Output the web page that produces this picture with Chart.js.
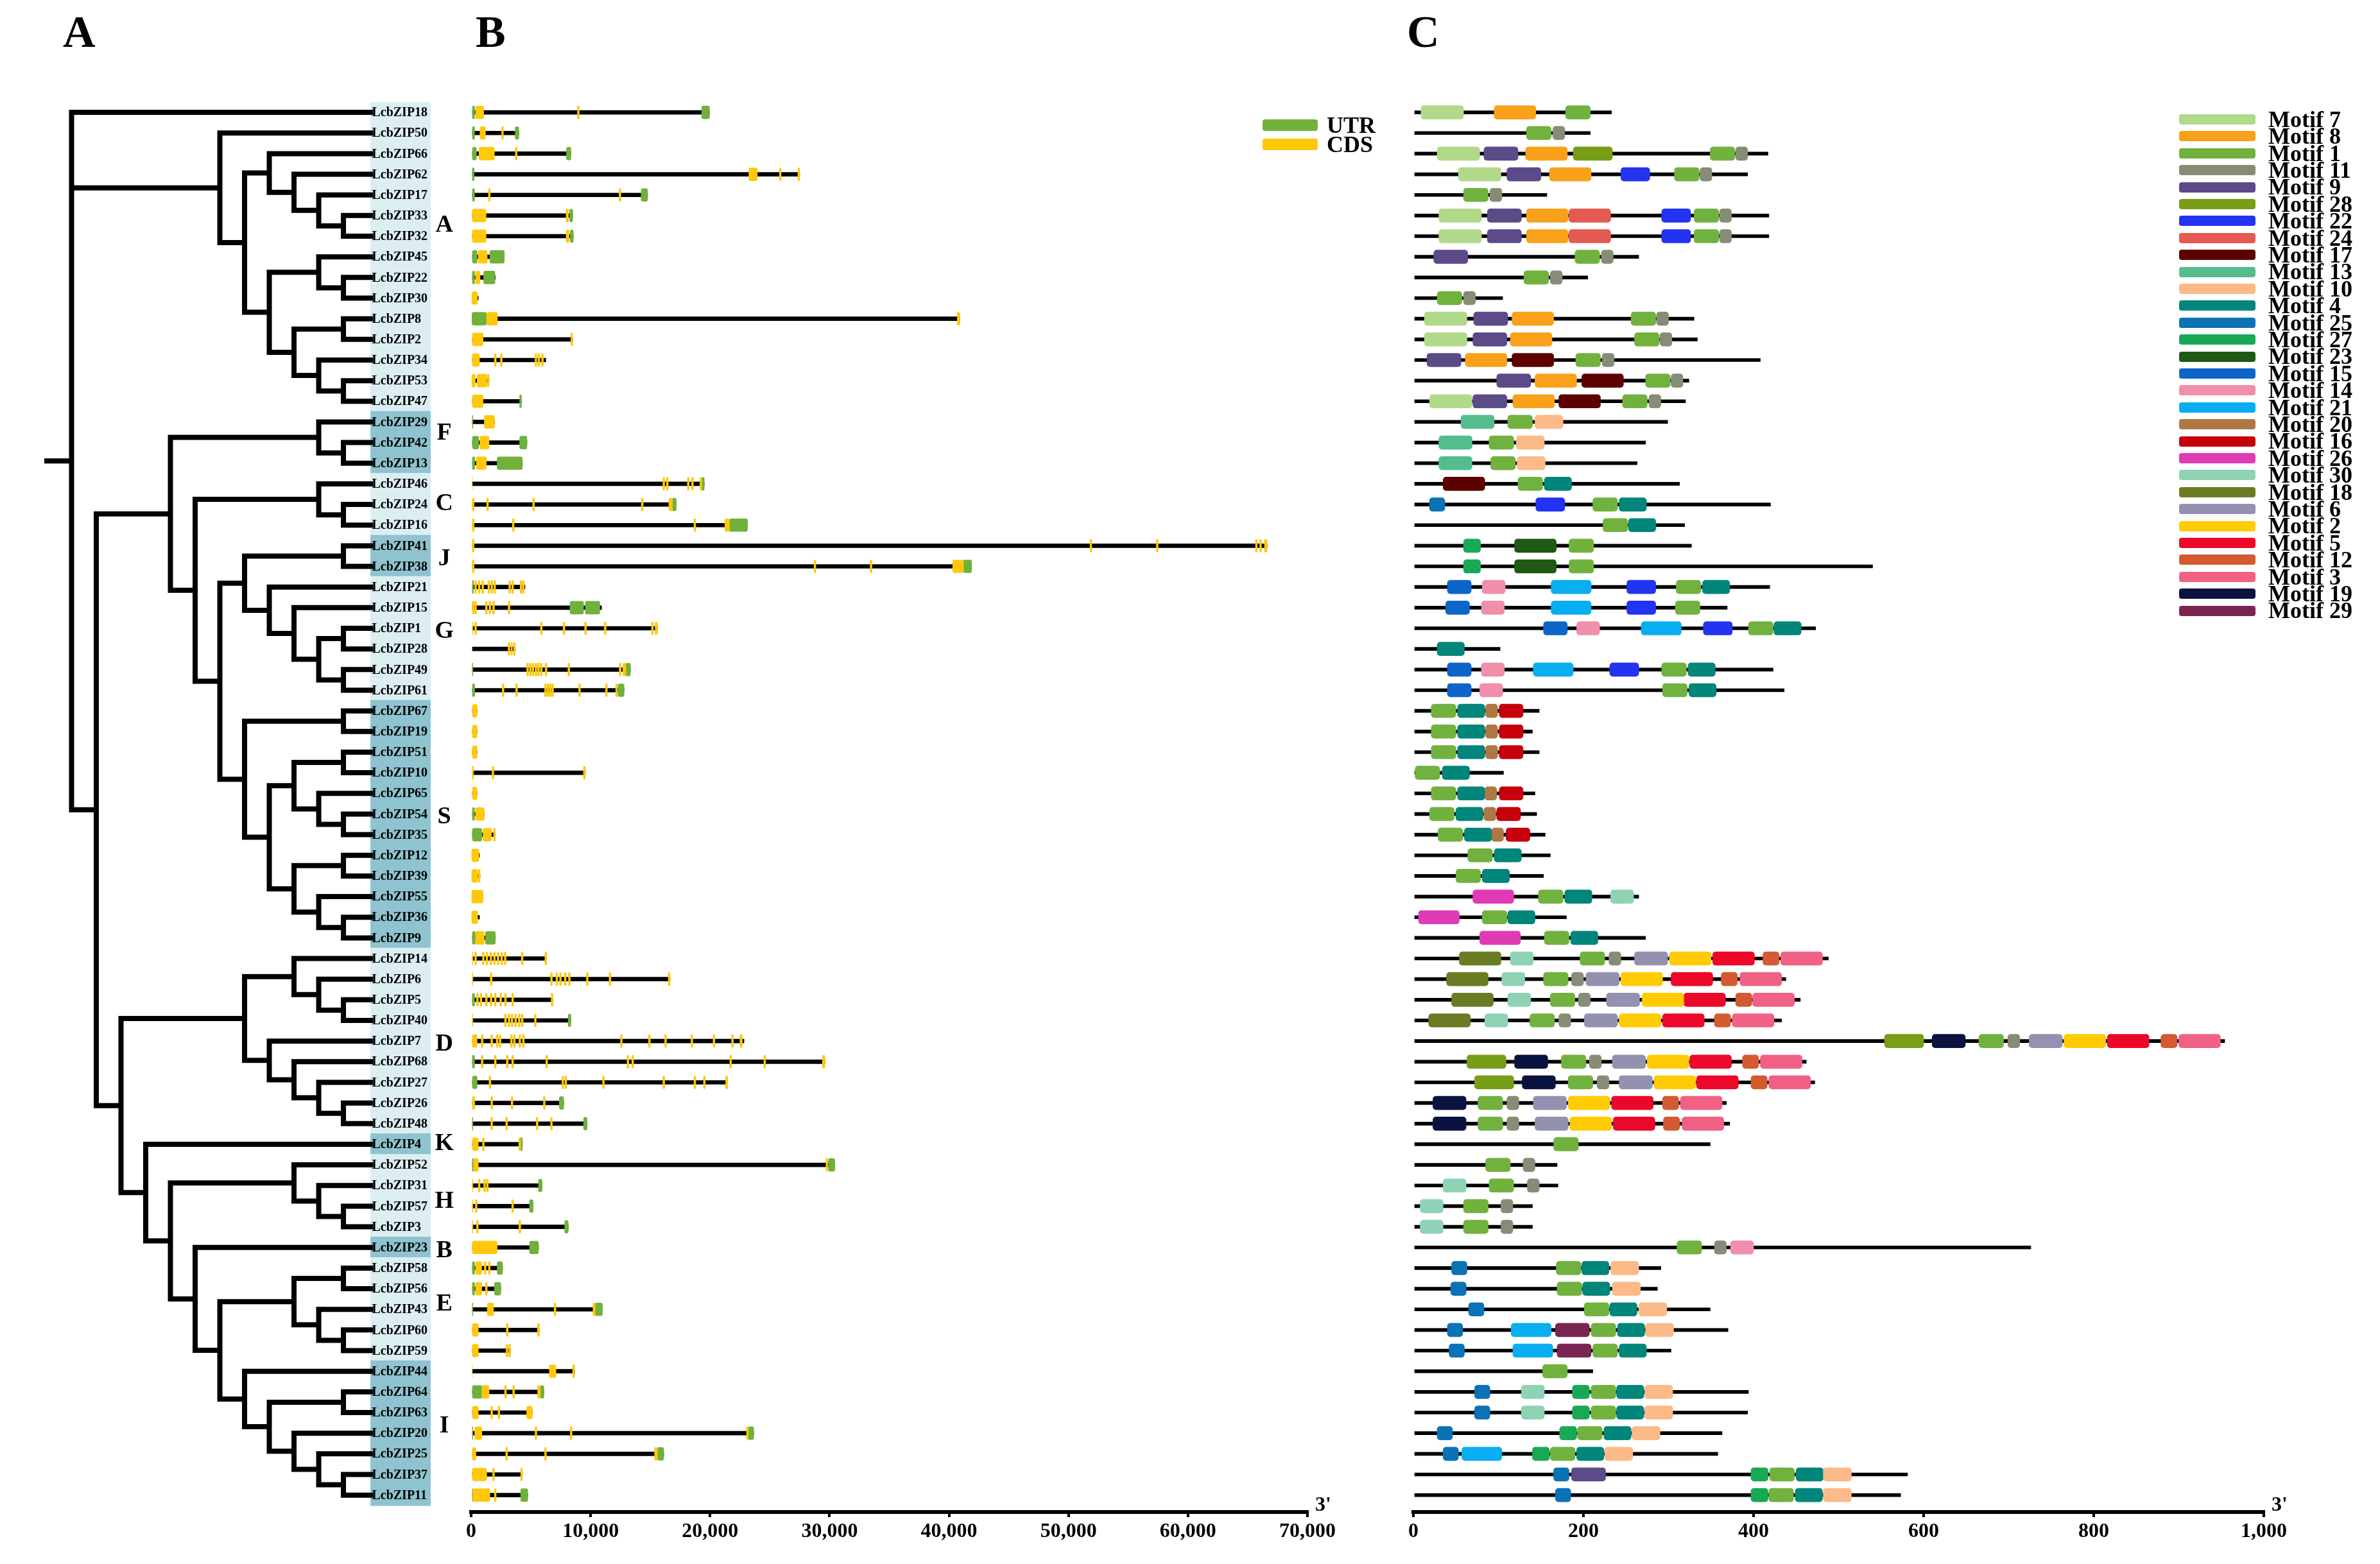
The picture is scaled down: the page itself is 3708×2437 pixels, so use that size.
<!DOCTYPE html>
<html>
<head>
<meta charset="utf-8">
<title>LcbZIP phylogeny, gene structure and conserved motifs</title>
<script src="https://cdn.jsdelivr.net/npm/chart.js@4.4.1/dist/chart.umd.min.js"></script>
<style>
  html, body { margin: 0; padding: 0; background: #fff; }
  #page { position: relative; width: 3708px; height: 2437px; overflow: hidden;
    font-family: "Liberation Serif", "Times New Roman", serif; font-weight: bold; color: #000; }
  canvas { position: absolute; top: 0; }
  .panel { position: absolute; top: 14px; font-size: 70px; line-height: 72px; }
  .key { position: absolute; display: flex; align-items: center; white-space: nowrap; }
  .key span.box { display: inline-block; border-radius: 4px; }
</style>
</head>
<body>
<div id="page">
  <canvas id="tree" width="760" height="2437" style="left:0px"></canvas>
  <canvas id="genes" width="1400" height="2437" style="left:700px"></canvas>
  <canvas id="motifs" width="1450" height="2437" style="left:2150px"></canvas>
  <div class="panel" style="left:98px">A</div>
  <div class="panel" style="left:741px">B</div>
  <div class="panel" style="left:2192px">C</div>
  <div id="geneKey"></div>
  <div id="motifKey"></div>
</div>
<script>
// rows, top to bottom
const geneNames = [
  "LcbZIP18","LcbZIP50","LcbZIP66","LcbZIP62","LcbZIP17","LcbZIP33","LcbZIP32","LcbZIP45","LcbZIP22","LcbZIP30",
  "LcbZIP8","LcbZIP2","LcbZIP34","LcbZIP53","LcbZIP47","LcbZIP29","LcbZIP42","LcbZIP13","LcbZIP46","LcbZIP24",
  "LcbZIP16","LcbZIP41","LcbZIP38","LcbZIP21","LcbZIP15","LcbZIP1","LcbZIP28","LcbZIP49","LcbZIP61","LcbZIP67",
  "LcbZIP19","LcbZIP51","LcbZIP10","LcbZIP65","LcbZIP54","LcbZIP35","LcbZIP12","LcbZIP39","LcbZIP55","LcbZIP36",
  "LcbZIP9","LcbZIP14","LcbZIP6","LcbZIP5","LcbZIP40","LcbZIP7","LcbZIP68","LcbZIP27","LcbZIP26","LcbZIP48",
  "LcbZIP4","LcbZIP52","LcbZIP31","LcbZIP57","LcbZIP3","LcbZIP23","LcbZIP58","LcbZIP56","LcbZIP43","LcbZIP60",
  "LcbZIP59","LcbZIP44","LcbZIP64","LcbZIP63","LcbZIP20","LcbZIP25","LcbZIP37","LcbZIP11"];

// tree (tip = gene number, number after ")" = node depth level)
const treeNewick =
  "(18,(50,((66,(62,(17,(33,32)11)10)9)8,((45,(22,30)11)10,((8,2)11,(34,(53,47)11)10)9)8)7)6," +
  "(((29,(42,13)11)10,((46,(24,16)11)10,(((41,38)11,(21,(15,((1,28)11,(49,61)11)10)9)8)7," +
  "((67,19)11,(((51,10)11,(65,(54,35)11)10)9,((12,39)11,(55,(36,9)11)10)9)8)7)6)5)4," +
  "(((14,(6,(5,40)11)10)9,(7,(68,(27,(26,48)11)10)9)8)7," +
  "(4,((52,(31,(57,3)11)10)9,(23,(((58,56)11,(43,(60,59)11)10)9," +
  "(44,((64,63)11,(20,(25,(37,11)11)10)9)8)7)6)5)4)3)2)1)0";

const cladeNames    = ["A","F","C","J","G","S","D","K","H","B","E","I"];
const cladeFirst    = [0, 15, 18, 21, 23, 29, 41, 50, 51, 55, 56, 61];
const cladeLast     = [14, 17, 20, 22, 28, 40, 49, 50, 54, 55, 60, 67];
const cladeLabelRow = [5.4, 15.5, 18.9, 21.6, 25.1, 34.1, 45.1, 49.9, 52.7, 55.1, 57.7, 63.6];

// gene structure (bp)
const geneLengths = [
  19950,3990,8350,27500,14770,8500,8550,2780,2030,600,
  40910,8500,6250,1500,4210,1950,4670,4290,19510,17170,
  23130,66620,41890,4510,10920,15590,3700,13330,12800,500,
  500,500,9560,500,1100,2030,700,750,1000,700,
  2030,6320,16650,6850,8350,22840,29610,21470,7750,9710,
  4290,30440,5940,5190,8130,5640,2630,2480,10990,5720,
  3300,8660,6090,5120,23650,16120,4290,4740];

const geneUTR = [
  [[0,290],[19300,19950]], [[0,290],[3690,3990]], [[0,440],[7980,8350]], [[0,250]], [[0,290],[14230,14770]],
  [[8250,8500]], [[8300,8550]], [[0,500],[1570,2780]], [[0,290],[1050,2000]], [],
  [[75,1270]], [], [], [], [[4060,4210]],
  [[0,150]], [[0,640],[4060,4670]], [[0,300],[2180,4290]], [[19300,19510]], [[16850,17170]],
  [[21620,23130]], [], [[41210,41890]], [[0,200]], [[8280,9410],[9560,10770]],
  [], [], [[0,150],[12950,13330]], [[0,300],[12300,12800]], [],
  [], [], [], [], [[0,290]],
  [[0,900]], [], [], [], [],
  [[0,350],[1200,2030]], [], [], [[0,290]], [[8130,8350]],
  [], [[0,290]], [[0,500]], [[7380,7750]], [[0,150],[9410,9710]],
  [[4150,4290]], [[0,200],[29910,30440]], [[5640,5940]], [[4890,5190]], [[7830,8130]],
  [[4890,5640]], [[0,290],[2180,2630]], [[0,290],[1950,2480]], [[0,150],[10390,10990]], [],
  [], [], [[0,900],[5800,6090]], [], [[0,150],[23200,23650]],
  [[15600,16120]], [], [[0,150],[4150,4740]]];

const geneCDS = [
  [[370,1050],[8900,9050]],
  [[740,1200],[2560,2700]],
  [[660,1950],[3700,3850]],
  [[23250,23950],[25800,25950],[27350,27500]],
  [[1450,1600],[12380,12530]],
  [[100,1250],[7950,8150]],
  [[100,1250],[7950,8200]],
  [[600,1350]],
  [[370,750]],
  [[70,530]],
  [[1300,2200],[40690,40910]],
  [[0,1000],[8350,8500]],
  [[0,700],[1950,2100],[2450,2600],[5350,5500],[5600,5750],[5900,6050]],
  [[60,350],[500,1300],[1350,1500]],
  [[0,1000]],
  [[1100,1950]],
  [[740,1500]],
  [[440,1270]],
  [[0,100],[16050,16200],[16350,16500],[18100,18250],[18450,18600],[19150,19300]],
  [[100,250],[1300,1450],[5150,5300],[14250,14400],[16550,16850]],
  [[100,250],[3450,3600],[18650,18800],[21240,21620]],
  [[100,250],[51800,51950],[57350,57500],[65650,65800],[66000,66150],[66400,66620]],
  [[100,250],[28700,28850],[33400,33550],[40310,41210]],
  [[300,450],[600,750],[900,1050],[1400,1550],[1650,1800],[1900,2050],[3150,3300],[3400,3550],[4100,4250],[4300,4450]],
  [[100,250],[300,450],[1200,1350],[1500,1650],[1800,1950],[3100,3250]],
  [[0,150],[300,450],[5800,5950],[7700,7850],[9500,9650],[11150,11300],[15100,15250],[15400,15590]],
  [[3100,3250],[3350,3450],[3550,3700]],
  [[4650,4800],[4880,5030],[5100,5250],[5350,5500],[5570,5720],[5800,5950],[6200,6350],[8100,8250],[12400,12550],[12700,12950]],
  [[2600,2750],[3730,3880],[6150,6300],[6350,6500],[6550,6700],[6750,6900],[9000,9150],[11250,11400],[12100,12250]],
  [[0,500]],
  [[0,500]],
  [[0,500]],
  [[0,200],[1750,1900],[9400,9560]],
  [[0,500]],
  [[370,1100]],
  [[1000,1700],[1880,2030]],
  [[50,650]],
  [[50,550],[600,750]],
  [[50,1000]],
  [[50,550]],
  [[370,1100]],
  [[0,150],[300,450],[950,1100],[1250,1400],[1580,1730],[1880,2030],[2180,2330],[2480,2630],[2780,2930],[4200,4350],[6170,6320]],
  [[0,150],[1600,1750],[6650,6800],[7100,7250],[7400,7550],[7800,7950],[8150,8300],[9650,9800],[11550,11700],[16500,16650]],
  [[450,600],[750,900],[1200,1350],[1600,1750],[1950,2100],[2400,2550],[2800,2950],[3400,3550],[6700,6850]],
  [[0,150],[2800,2950],[3100,3250],[3350,3500],[3650,3800],[3950,4100],[4200,4350],[5300,5450]],
  [[0,500],[850,1000],[1650,1800],[2100,2250],[2350,2500],[3300,3450],[3550,3700],[4000,4150],[4300,4450],[12500,12650],[14850,15000],[16200,16350],[18400,18550],[20250,20400],[21800,21950],[22500,22700]],
  [[850,1000],[1950,2100],[2950,3100],[3400,3550],[6250,6400],[13050,13200],[13450,13600],[21650,21800],[24500,24650],[29400,29610]],
  [[1500,1650],[7600,7750],[7850,8000],[11000,11150],[16050,16200],[18650,18800],[19450,19600],[21300,21470]],
  [[0,300],[1650,1800],[3350,3500],[6050,6200]],
  [[1650,1800],[2900,3050],[5450,5600],[6650,6800]],
  [[0,600],[950,1100],[3990,4150]],
  [[200,600],[29700,29850]],
  [[0,150],[600,750],[1050,1200],[1280,1430]],
  [[0,150],[350,500],[3400,3550]],
  [[0,150],[450,600],[4000,4150]],
  [[0,2180]],
  [[370,890],[1100,1250],[1450,1600]],
  [[370,890],[1200,1350]],
  [[1350,1880],[6950,7100],[10200,10390]],
  [[0,600],[2950,3100],[5550,5720]],
  [[0,600],[2930,3080],[3150,3300]],
  [[0,100],[6550,7100],[8500,8660]],
  [[900,1500],[2800,2950],[3480,3630],[5570,5800]],
  [[0,600],[1650,1800],[2250,2400],[4650,5120]],
  [[300,900],[5350,5500],[8300,8450],[23050,23200]],
  [[0,400],[2900,3050],[6150,6300],[15350,15600]],
  [[0,1300],[1800,1950],[4150,4290]],
  [[150,1570],[1950,2100]]];

// motifs (aa)
const proteinLengths = [
  233,208,417,393,157,418,418,265,205,105,
  330,334,408,324,320,299,273,263,313,420,
  319,327,540,419,369,473,102,423,436,148,
  140,148,106,143,145,155,161,153,265,180,
  273,488,438,455,433,954,462,472,368,372,
  349,169,170,140,140,726,291,287,349,370,
  303,211,394,393,363,358,581,573];

// [motif number, start]
const motifHits = [
  [[7,9],[8,95],[1,179]],
  [[1,133],[11,164]],
  [[7,28],[9,83],[8,132],[28,188],[1,349],[11,379]],
  [[7,53],[9,110],[8,160],[22,244],[1,307],[11,337]],
  [[1,59],[11,90]],
  [[7,30],[9,87],[8,133],[24,183],[22,292],[1,330],[11,360]],
  [[7,30],[9,87],[8,133],[24,183],[22,292],[1,330],[11,360]],
  [[9,24],[1,190],[11,221]],
  [[1,130],[11,161]],
  [[1,28],[11,59]],
  [[7,13],[9,71],[8,116],[1,256],[11,286]],
  [[7,13],[9,70],[8,114],[1,260],[11,290]],
  [[9,16],[8,61],[17,116],[1,191],[11,222]],
  [[9,98],[8,143],[17,198],[1,273],[11,303]],
  [[7,19],[9,70],[8,117],[17,171],[1,246],[11,277]],
  [[13,56],[1,111],[10,143]],
  [[13,30],[1,89],[10,121]],
  [[13,30],[1,91],[10,122]],
  [[17,35],[1,123],[4,154]],
  [[25,19],[22,144],[1,211],[4,242]],
  [[1,223],[4,253]],
  [[27,59],[23,119],[1,183]],
  [[27,59],[23,119],[1,183]],
  [[15,40],[14,81],[21,162],[22,251],[1,309],[4,340]],
  [[15,38],[14,80],[21,162],[22,251],[1,308]],
  [[15,153],[14,192],[21,268],[22,341],[1,394],[4,424]],
  [[4,28]],
  [[15,40],[14,80],[21,141],[22,231],[1,292],[4,323]],
  [[15,40],[14,78],[1,293],[4,324]],
  [[1,21],[4,52],[20,85],[16,101]],
  [[1,21],[4,52],[20,85],[16,101]],
  [[1,21],[4,52],[20,85],[16,101]],
  [[1,2],[4,34]],
  [[1,21],[4,52],[20,84],[16,101]],
  [[1,19],[4,50],[20,83],[16,98]],
  [[1,29],[4,60],[20,92],[16,109]],
  [[1,64],[4,95]],
  [[1,50],[4,81]],
  [[26,70],[1,147],[4,178],[30,232]],
  [[26,6],[1,81],[4,111]],
  [[26,78],[1,154],[4,185]],
  [[18,54],[30,114],[1,196],[11,230],[6,260],[2,301],[5,352],[12,411],[3,432]],
  [[18,39],[30,104],[1,153],[11,186],[6,203],[2,244],[5,303],[12,362],[3,384]],
  [[18,45],[30,111],[1,161],[11,194],[6,227],[2,269],[5,318],[12,379],[3,399]],
  [[18,18],[30,84],[1,137],[11,171],[6,201],[2,242],[5,293],[12,354],[3,375]],
  [[28,554],[19,610],[1,665],[11,699],[6,724],[2,765],[5,816],[12,879],[3,900]],
  [[28,63],[19,119],[1,174],[11,207],[6,234],[2,275],[5,325],[12,387],[3,408]],
  [[28,72],[19,128],[1,182],[11,216],[6,242],[2,283],[5,333],[12,397],[3,418]],
  [[19,23],[1,76],[11,110],[6,141],[2,182],[5,233],[12,293],[3,314]],
  [[19,23],[1,76],[11,110],[6,143],[2,184],[5,235],[12,294],[3,316]],
  [[1,165]],
  [[1,85],[11,129]],
  [[30,35],[1,89],[11,134]],
  [[30,8],[1,59],[11,103]],
  [[30,8],[1,59],[11,103]],
  [[1,310],[11,354],[14,373]],
  [[25,45],[1,168],[4,198],[10,232]],
  [[25,44],[1,169],[4,199],[10,234]],
  [[25,65],[1,201],[4,231],[10,265]],
  [[25,40],[21,115],[29,167],[1,209],[4,240],[10,273]],
  [[25,42],[21,117],[29,169],[1,211],[4,242]],
  [[1,152]],
  [[25,72],[30,127],[27,187],[1,209],[4,239],[10,272]],
  [[25,72],[30,127],[27,187],[1,209],[4,239],[10,272]],
  [[25,28],[27,172],[1,193],[4,224],[10,257]],
  [[25,35],[21,57],[27,140],[1,161],[4,192],[10,225]],
  [[25,165],[9,186],[27,397],[1,419],[4,450],[10,482]],
  [[25,167],[27,397],[1,418],[4,449],[10,482]]];

const motifOrder  = [7,8,1,11,9,28,22,24,17,13,10,4,25,27,23,15,14,21,20,16,26,30,18,6,2,5,12,3,19,29];
const motifWidths = [50,49,29,14,40,46,34,49,49,39,33,32,18,20,49,28,27,47,14,28,48,27,49,39,49,49,19,49,39,40];
const motifColors = ["#B1D98A","#F9A11B","#71B23F","#878C76","#5C4A89","#789D17","#2233F2","#E35A52","#5C0000","#55BD8D",
  "#FBBA87","#02857B","#0C72B6","#18A957","#1E5A13","#0E65C9","#EF8FA9","#08AEEF","#AF7742","#C6000B",
  "#E03BB4","#8FD2B4","#6A7C23","#9391B0","#FFCB04","#EC0828","#D45A32","#F06185","#0A1240","#7A2451"];

const bpTicks = [0,10000,20000,30000,40000,50000,60000,70000];
const aaTicks = [0,200,400,600,800,1000];

const UTR_COLOR = "#70B13C";
const CDS_COLOR = "#FFC80A";
const SHADE_LIGHT = "#DCEEF2";
const SHADE_DARK = "#8EC3CF";
const SERIF = '"Liberation Serif", "Times New Roman", serif';

Chart.defaults.font.family = SERIF;
Chart.defaults.color = "#000";

const TIP_LEVEL = 12.1;
const LABEL_END = 14.53;
const rowAxis = () => ({ type: "linear", min: -0.5, max: 67.82, reverse: true, offset: false, display: false });

// ---- tree ----
function parseNewick(s) {
  let i = 0;
  function node() {
    if (s[i] === "(") {
      i++;
      const kids = [node()];
      while (s[i] === ",") { i++; kids.push(node()); }
      i++;
      let num = "";
      while (i < s.length && /[0-9.]/.test(s[i])) num += s[i++];
      return { kids, level: parseFloat(num) };
    }
    let name = "";
    while (i < s.length && /[0-9A-Za-z]/.test(s[i])) name += s[i++];
    return { name };
  }
  return node();
}

function layout(n, segs) {
  if (!n.kids) {
    n.x = TIP_LEVEL;
    n.y = geneNames.indexOf("LcbZIP" + n.name);
    return;
  }
  n.kids.forEach(k => layout(k, segs));
  n.x = n.level;
  const ys = n.kids.map(k => k.y);
  const lo = Math.min(...ys), hi = Math.max(...ys);
  n.y = (lo + hi) / 2;
  segs.push([{ x: n.x, y: lo }, { x: n.x, y: hi }]);
  n.kids.forEach(k => segs.push([{ x: n.x, y: k.y }, { x: k.x, y: k.y }]));
}

const root = parseNewick(treeNewick);
const segs = [];
layout(root, segs);
segs.push([{ x: root.level - 1, y: root.y }, { x: root.level, y: root.y }]);
const treePoints = [];
segs.forEach(s => treePoints.push(s[0], s[1], { x: null, y: null }));

const shadeData = [];
const shadeColors = [];
cladeNames.forEach((c, k) => {
  for (let i = cladeFirst[k]; i <= cladeLast[k]; i++) {
    shadeData.push({ x: [TIP_LEVEL, LABEL_END], y: i });
    shadeColors.push(k % 2 ? SHADE_DARK : SHADE_LIGHT);
  }
});

const treeLabels = {
  id: "treeLabels",
  afterDatasetsDraw(chart) {
    const { ctx, scales: { x, y } } = chart;
    ctx.save();
    ctx.fillStyle = "#000";
    ctx.textBaseline = "middle";
    ctx.textAlign = "left";
    ctx.font = "bold 20px " + SERIF;
    geneNames.forEach((n, i) => ctx.fillText(n, x.getPixelForValue(TIP_LEVEL) + 2, y.getPixelForValue(i) + 1));
    ctx.textAlign = "center";
    ctx.font = "bold 38px " + SERIF;
    cladeNames.forEach((c, k) => ctx.fillText(c, x.getPixelForValue(15.08), y.getPixelForValue(cladeLabelRow[k]) + 2));
    ctx.restore();
  }
};

new Chart(document.getElementById("tree"), {
  type: "scatter",
  data: {
    datasets: [
      { type: "scatter", data: treePoints, showLine: true, borderColor: "#000", borderWidth: 8,
        borderCapStyle: "square", borderJoinStyle: "miter", pointRadius: 0, clip: false, order: 0 },
      { type: "bar", indexAxis: "y", data: shadeData, backgroundColor: shadeColors,
        barThickness: 33, grouped: false, order: 1 }
    ]
  },
  options: {
    responsive: false, animation: false,
    layout: { padding: { left: 73, right: 89, top: 159, bottom: 81 } },
    plugins: { legend: { display: false }, tooltip: { enabled: false } },
    scales: { x: { type: "linear", min: -1, max: LABEL_END, offset: false, display: false }, y: rowAxis() }
  },
  plugins: [treeLabels]
});

// ---- shared x axis styling ----
function bottomAxis(max, ticks) {
  return {
    type: "linear", min: 0, max: max, offset: false,
    afterBuildTicks: s => { s.ticks = ticks.map(v => ({ value: v })); },
    afterFit: s => { s.height = 70; },
    border: { display: true, color: "#000", width: 6 },
    grid: { display: true, drawOnChartArea: false, drawTicks: true, tickLength: 8, color: "#000", lineWidth: 4 },
    ticks: { color: "#000", padding: 4, autoSkip: false, maxRotation: 0,
      font: { family: SERIF, size: 32, weight: "bold" },
      callback: v => v.toLocaleString("en-US") }
  };
}

const threePrime = {
  id: "threePrime",
  afterDraw(chart) {
    const { ctx, chartArea } = chart;
    ctx.save();
    ctx.fillStyle = "#000";
    ctx.font = "bold 32px " + SERIF;
    ctx.textAlign = "left";
    ctx.textBaseline = "alphabetic";
    ctx.fillText("3'", chartArea.right + 12, chartArea.bottom - 2);
    ctx.restore();
  }
};

// ---- gene structure ----
const intronData = geneLengths.map((len, i) => ({ x: [0, len], y: i }));
const utrData = [];
const cdsData = [];
geneUTR.forEach((list, i) => list.forEach(s => utrData.push({ x: s, y: i })));
geneCDS.forEach((list, i) => list.forEach(s => cdsData.push({ x: s, y: i })));

new Chart(document.getElementById("genes"), {
  type: "bar",
  data: {
    datasets: [
      { label: "CDS", data: cdsData, backgroundColor: CDS_COLOR, barThickness: 20, borderRadius: 3, order: 0 },
      { label: "UTR", data: utrData, backgroundColor: UTR_COLOR, barThickness: 20, borderRadius: 3, order: 1 },
      { label: "gene", data: intronData, backgroundColor: "#000", barThickness: 6, order: 2 }
    ]
  },
  options: {
    indexAxis: "y", responsive: false, animation: false,
    datasets: { bar: { grouped: false, borderSkipped: false } },
    layout: { padding: { left: 34, right: 63, top: 159, bottom: 11 } },
    plugins: { legend: { display: false }, tooltip: { enabled: false } },
    scales: { x: bottomAxis(70000, bpTicks), y: rowAxis() }
  },
  plugins: [threePrime]
});

// ---- motifs ----
const motifSets = motifOrder.map((m, k) => {
  const data = [];
  motifHits.forEach((hits, i) => hits.forEach(h => {
    if (h[0] === m) data.push({ x: [h[1], h[1] + motifWidths[k]], y: i });
  }));
  return { label: "Motif " + m, data, backgroundColor: motifColors[k], barThickness: 21, borderRadius: 5, order: 0 };
});
motifSets.push({ label: "protein", data: proteinLengths.map((len, i) => ({ x: [0, len], y: i })),
  backgroundColor: "#000", barThickness: 5, order: 5 });

new Chart(document.getElementById("motifs"), {
  type: "bar",
  data: { datasets: motifSets },
  options: {
    indexAxis: "y", responsive: false, animation: false,
    datasets: { bar: { grouped: false, borderSkipped: false } },
    layout: { padding: { left: 52, right: 73, top: 159, bottom: 11 } },
    plugins: { legend: { display: false }, tooltip: { enabled: false } },
    scales: { x: bottomAxis(1000, aaTicks), y: rowAxis() }
  },
  plugins: [threePrime]
});

// ---- keys ----
const geneKey = document.getElementById("geneKey");
[["UTR", UTR_COLOR, 195], ["CDS", CDS_COLOR, 225]].forEach(([t, c, cy]) => {
  const d = document.createElement("div");
  d.className = "key";
  d.style.cssText = "left:1967px;top:" + (cy - 15) + "px;height:30px;font-size:36px;";
  d.innerHTML = '<span class="box" style="width:86px;height:18px;background:' + c + '"></span>' +
    '<span style="margin-left:14px;line-height:30px">' + t + "</span>";
  geneKey.appendChild(d);
});

const motifKey = document.getElementById("motifKey");
motifOrder.forEach((m, k) => {
  const cy = 186 + k * 26.4;
  const d = document.createElement("div");
  d.className = "key";
  d.style.cssText = "left:3395px;top:" + (cy - 13.2) + "px;height:26.4px;font-size:36px;";
  d.innerHTML = '<span class="box" style="width:119px;height:16px;background:' + motifColors[k] + '"></span>' +
    '<span style="margin-left:20px;line-height:26.4px">Motif ' + m + "</span>";
  motifKey.appendChild(d);
});
</script>
</body>
</html>
